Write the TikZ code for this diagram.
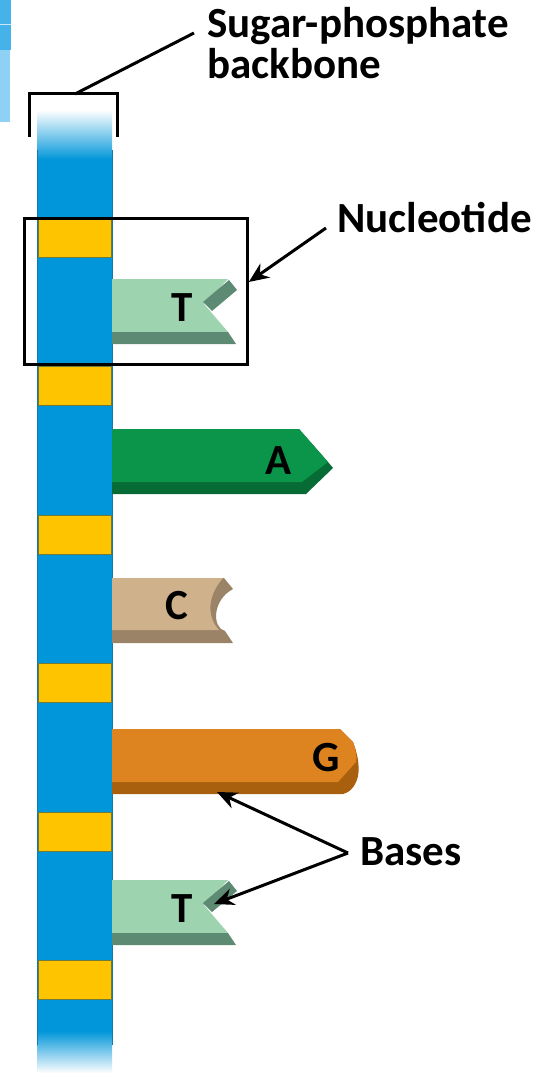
\documentclass[tikz,border=0pt]{standalone}
\usepackage{fontspec}
\setmainfont{Carlito}
\usetikzlibrary{arrows.meta}
\definecolor{bbblue}{HTML}{0096D9}
\definecolor{bbedge}{HTML}{1578B0}
\definecolor{band}{HTML}{FFC400}
\definecolor{bandedge}{HTML}{6E7A3A}
\definecolor{tlight}{HTML}{9DD3AE}
\definecolor{tdark}{HTML}{5C8A72}
\definecolor{alight}{HTML}{0A954A}
\definecolor{adark}{HTML}{076B35}
\definecolor{clight}{HTML}{CFB18C}
\definecolor{cdark}{HTML}{9A8366}
\definecolor{glight}{HTML}{DD8420}
\definecolor{gdark}{HTML}{A8600F}
\definecolor{cornerA}{HTML}{45B2EA}
\definecolor{cornerB}{HTML}{8FD0F5}
\tikzset{
  lbl/.style={font=\fontsize{43}{41}\selectfont\bfseries, inner sep=0pt, align=left},
  baselbl/.style={font=\fontsize{43}{41}\selectfont\bfseries, inner sep=0pt, anchor=base},
  pointer/.style={line width=3pt, -{Stealth[length=20pt,width=17pt]}},
  bandbox/.style={fill=band, draw=bandedge, line width=0.8pt},
}
\begin{document}
\begin{tikzpicture}[x=1pt,y=-1pt]
\useasboundingbox (0,0) rectangle (536,1075);

% corner decoration
\fill[cornerA] (0,0) rectangle (11,50);
\fill[cornerB] (0,50) rectangle (10,122);
\draw[white!70!cornerA, line width=0.6pt] (0,24) -- (11,24);

% sugar-phosphate backbone with faded ends
\shade[top color=white, bottom color=bbblue] (37,110) rectangle (112,160);
\fill[bbblue] (37,159) rectangle (112,1032);
\shade[top color=bbblue, bottom color=white] (37,1031) rectangle (112,1073);
\draw[bbedge, line width=0.7pt] (37,150) -- (37,1045) (112,150) -- (112,1045);

% sugar bands
\foreach \y in {218,366.5,515,663.5,812,960.5}
  \draw[bandbox] (38,\y) rectangle (111,\y+39);

% thymine (two copies)
\foreach \t/\nm in {279/T1,880/T2}{
  \fill[tlight] (112,\t) -- (228,\t) -- (204,\t+25) -- (228,\t+53) -- (112,\t+53) -- cycle;
  \fill[tdark] (203,\t+23) -- (229,\t+1) -- (237,\t+11) -- (212,\t+32) -- cycle;
  \fill[tdark] (112,\t+53) -- (228,\t+53) -- (236,\t+65) -- (112,\t+65) -- cycle;
  \node[baselbl] (\nm) at (182,\t+42) {T};
}

% adenine
\fill[adark] (112,429) -- (299,429) -- (328,462) -- (333,468) -- (306,494) -- (112,494) -- cycle;
\fill[alight] (112,429) -- (299,429) -- (328,462) -- (302,482) -- (112,482) -- cycle;
\node[baselbl] (A) at (279,474) {A};

% cytosine
\fill[cdark] (112,578) -- (224,578) -- (233,589)
  .. controls (212,600) and (212,628) .. (225,631) -- (233,643) -- (112,643) -- cycle;
\fill[clight] (112,578) -- (223,578) .. controls (208,595) and (206,616) .. (219,630) -- (112,630) -- cycle;
\node[baselbl] (C) at (177,619) {C};

% guanine
\fill[gdark] (112,729) -- (340,729) -- (353,742)
  .. controls (357,752) and (360,765) .. (358,776)
  .. controls (356,785) and (351,792) .. (343,794) -- (112,794) -- cycle;
\fill[glight] (112,729) -- (340,729) -- (353,742)
  .. controls (356,750) and (357,758) .. (356,762) -- (338,782) -- (112,782) -- cycle;
\node[baselbl] (G) at (326,771) {G};

% nucleotide frame
\node[draw=black, line width=2.8pt, inner sep=0pt, minimum width=223pt, minimum height=146pt,
      anchor=north west] (nucbox) at (23,217) {};

% backbone bracket
\coordinate (brL) at (29,137);
\coordinate (brR) at (117,137);
\coordinate (brTop) at (75,94);
\draw[line width=3pt] (brL) -- (29,94) -- (117,94) -- (brR);

% labels
\node[lbl, anchor=base west] (sugar) at (207,79) {Sugar-phosphate\\backbone};
\node[lbl, anchor=base west] (nucl) at (337,233) {Nucleotide};
\node[lbl, anchor=base west] (bases) at (360,865) {Bases};

% leader lines
\coordinate (sugarEnd) at (194,33);
\draw[line width=3pt] (sugarEnd) -- (brTop);
\coordinate (nuclEnd) at (326,228);
\draw[pointer] (nuclEnd) -- (nucbox.east |- 0,282);
\coordinate (basesEnd) at (348,853);
\coordinate (gTip) at (217,792);
\coordinate (tTip) at (214,904);
\draw[pointer] (basesEnd) -- (gTip);
\draw[pointer] (basesEnd) -- (tTip);
\end{tikzpicture}
\end{document}
